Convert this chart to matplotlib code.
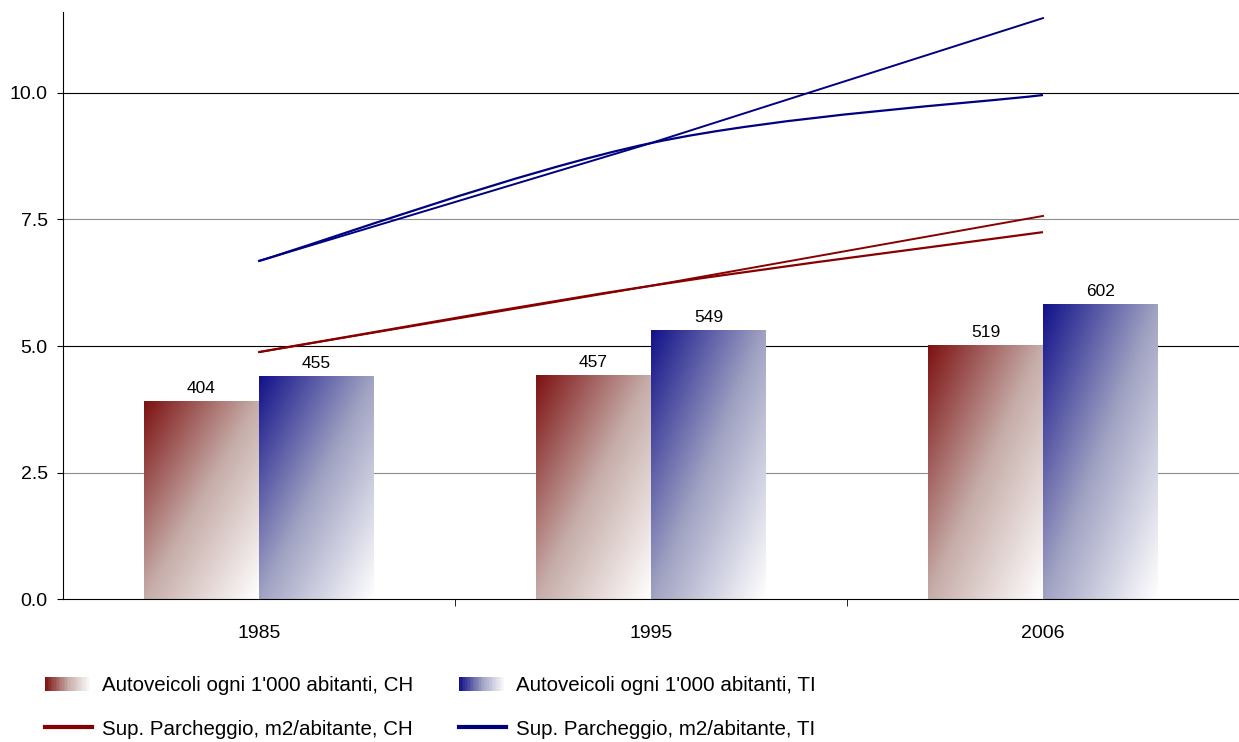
import numpy as np
import matplotlib.pyplot as plt
from matplotlib.colors import LinearSegmentedColormap
from matplotlib.patches import Rectangle, PathPatch
from matplotlib.path import Path
from matplotlib.lines import Line2D
from matplotlib.legend_handler import HandlerBase
from matplotlib.ticker import FormatStrFormatter

plt.rcParams['font.family'] = ['Liberation Sans', 'DejaVu Sans']

# dati
anni = ['1985', '1995', '2006']
auto_ch = [404, 457, 519]          # autoveicoli ogni 1'000 abitanti
auto_ti = [455, 549, 602]
park_ch = [4.88, 6.19, 7.25]       # sup. parcheggio m2/abitante (curva)
park_ti = [6.68, 9.01, 9.96]
retta_ch = [4.88, 6.19, 7.57]      # seconda linea (retta)
retta_ti = [6.68, 9.01, 11.48]

rosso = '#880000'
blu = '#000080'
cmap_ch = LinearSegmentedColormap.from_list('ch', ['#7D1212', '#C6ADA9', '#FFFFFF'])
cmap_ti = LinearSegmentedColormap.from_list('ti', ['#12128A', '#A0A2C2', '#FFFFFF'])

max_barre = 1200
max_linee = 11.6
scala = max_barre / max_linee


def curva(xs, ys):
    # linea smussata tipo Excel (bezier)
    p = np.column_stack([xs, ys]).astype(float)
    n = len(p)
    verts = [p[0]]
    codes = [Path.MOVETO]
    for i in range(n - 1):
        a = p[i - 1] if i > 0 else p[i]
        b = p[i + 2] if i + 2 < n else p[i + 1]
        verts += [p[i] + (p[i + 1] - a) / 6, p[i + 1] - (b - p[i]) / 6, p[i + 1]]
        codes += [Path.CURVE4] * 3
    return Path(verts, codes)


class HandlerGrad(HandlerBase):
    def __init__(self, cmap):
        super().__init__()
        self.cmap = cmap

    def create_artists(self, legend, orig_handle, xdescent, ydescent,
                       width, height, fontsize, trans):
        n = 30
        out = []
        for i in range(n):
            r = Rectangle((-xdescent + width * i / n, -ydescent), width / n * 1.05, height,
                          facecolor=self.cmap(i / (n - 1)), edgecolor='none', transform=trans)
            out.append(r)
        return out


fig = plt.figure(figsize=(12.39, 7.42), dpi=100)
ax = fig.add_axes([0.0508, 0.1927, 0.9492, 0.7911])
x = np.arange(len(anni))
w = 0.293

# griglia (dietro le barre)
for g in [2.5, 5.0, 7.5, 10.0]:
    col = 'black' if g % 5 == 0 else '#8c8c8c'
    ax.axhline(g * scala, color=col, lw=0.8, zorder=0)

b_ch = ax.bar(x - w / 2, auto_ch, w, color='none', edgecolor='none', zorder=2)
b_ti = ax.bar(x + w / 2, auto_ti, w, color='none', edgecolor='none', zorder=2)

u, v = np.meshgrid(np.linspace(0, 1, 120), np.linspace(0, 1, 200))
grad = (u + (1 - v)) / 2
for bars, cm in [(b_ch, cmap_ch), (b_ti, cmap_ti)]:
    for r in bars:
        x0, y0 = r.get_x(), r.get_y()
        ax.imshow(grad, extent=(x0, x0 + r.get_width(), y0, y0 + r.get_height()),
                  origin='lower', cmap=cm, vmin=0, vmax=1, aspect='auto',
                  interpolation='bilinear', zorder=2, clip_path=r)
    ax.bar_label(bars, padding=4, fontsize=12.5)

ax.set_xlim(-0.5, 2.5)
ax.set_ylim(0, max_barre)
ax.set_yticks([])
ax.set_xticks(x, anni, fontsize=14)
ax.set_xticks([0.5, 1.5], minor=True)
ax.tick_params(axis='x', which='major', length=0, pad=19)
ax.tick_params(axis='x', which='minor', length=5, color='black', direction='out')
for s in ['top', 'right', 'left']:
    ax.spines[s].set_visible(False)
ax.spines['bottom'].set_color('black')

# linee
ax2 = ax.twinx()
ax2.add_patch(PathPatch(curva(x, park_ch), fill=False, edgecolor=rosso, lw=1.6, zorder=3))
ax2.add_patch(PathPatch(curva(x, park_ti), fill=False, edgecolor=blu, lw=1.6, zorder=3))
ax2.plot(x, retta_ch, color=rosso, lw=1.4, zorder=3)
ax2.plot(x, retta_ti, color=blu, lw=1.4, zorder=3)
ax2.set_ylim(0, max_linee)
ax2.set_xlim(-0.5, 2.5)
ax2.yaxis.tick_left()
ax2.set_yticks([0, 2.5, 5.0, 7.5, 10.0])
ax2.yaxis.set_major_formatter(FormatStrFormatter('%.1f'))
ax2.tick_params(axis='y', length=4, pad=7, labelsize=14, color='black')
for s in ['top', 'right', 'bottom']:
    ax2.spines[s].set_visible(False)
ax2.spines['left'].set_color('black')

h_ch = Rectangle((0, 0), 1, 1)
h_ti = Rectangle((0, 0), 1, 1)
handles = [h_ch, Line2D([], [], color=rosso, lw=3), h_ti, Line2D([], [], color=blu, lw=3)]
labels = ["Autoveicoli ogni 1'000 abitanti, CH", "Sup. Parcheggio, m2/abitante, CH",
          "Autoveicoli ogni 1'000 abitanti, TI", "Sup. Parcheggio, m2/abitante, TI"]
fig.legend(handles, labels, handler_map={h_ch: HandlerGrad(cmap_ch), h_ti: HandlerGrad(cmap_ti)},
           ncol=2, loc='upper left', bbox_to_anchor=(0.036, 0.089), frameon=False,
           fontsize=14.8, handlelength=2.3, handletextpad=0.5, columnspacing=2.2,
           labelspacing=1.2, borderpad=0, borderaxespad=0)

fig.savefig('out.png', dpi=100)
